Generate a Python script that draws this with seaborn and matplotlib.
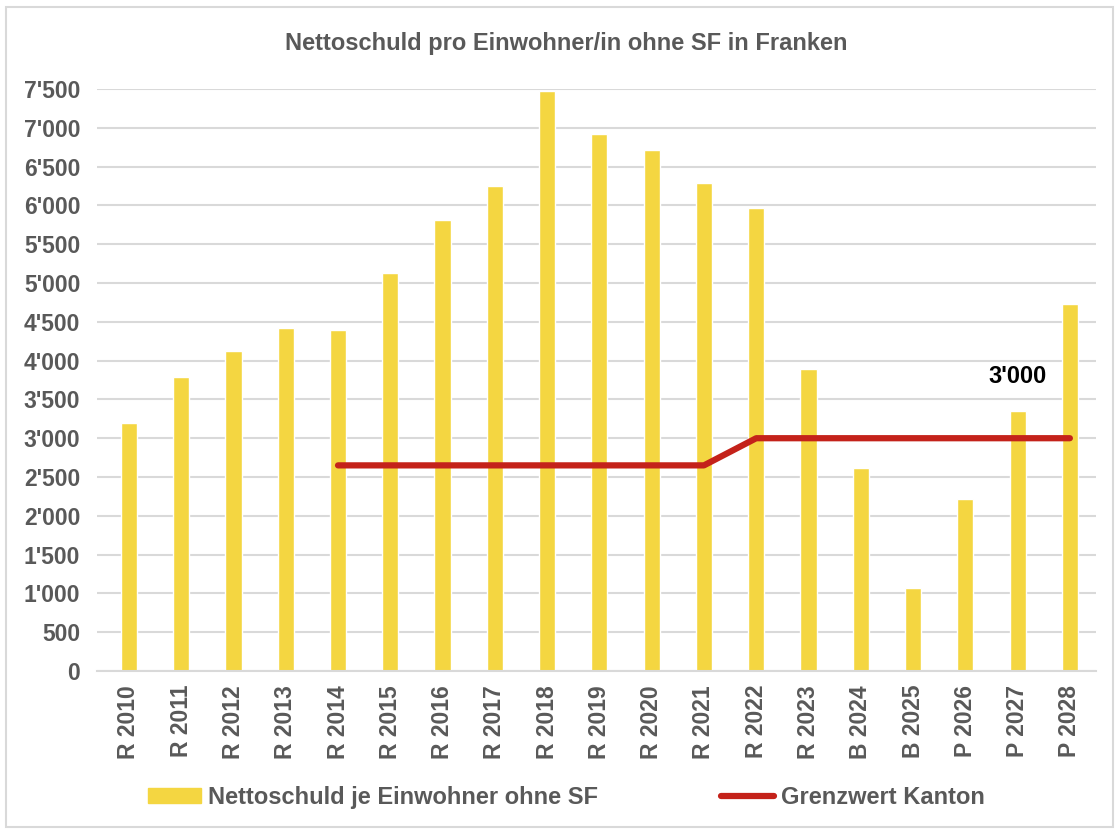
import numpy as np
import pandas as pd
import matplotlib
matplotlib.use('Agg')
import matplotlib.pyplot as plt
import matplotlib.ticker as mticker
from matplotlib.patches import Rectangle, Patch
from matplotlib.lines import Line2D
import seaborn as sns

# data
years = ['R 2010', 'R 2011', 'R 2012', 'R 2013', 'R 2014', 'R 2015', 'R 2016',
         'R 2017', 'R 2018', 'R 2019', 'R 2020', 'R 2021', 'R 2022', 'R 2023',
         'B 2024', 'B 2025', 'P 2026', 'P 2027', 'P 2028']
nettoschuld = [3200, 3790, 4120, 4420, 4390, 5130, 5810, 6250, 7470, 6920,
               6710, 6290, 5970, 3890, 2620, 1070, 2220, 3350, 4730]
grenzwert = [np.nan, np.nan, np.nan, np.nan, 2650, 2650, 2650, 2650, 2650, 2650,
             2650, 2650, 3000, 3000, 3000, 3000, 3000, 3000, 3000]
annot_label = "3'000"

YELLOW = '#F4D641'
RED = '#C4221A'
GREY = '#595959'
GRID = '#D9D9D9'

sns.set_style('white')
plt.rcParams['font.family'] = ['Liberation Sans', 'DejaVu Sans']
plt.rcParams['font.weight'] = 'bold'

df = pd.DataFrame({'jahr': years, 'netto': nettoschuld, 'grenz': grenzwert})

fig = plt.figure(figsize=(11.19, 8.32), dpi=100)
ax = fig.add_axes([0.0867, 0.1935, 0.8923, 0.6995])

sns.barplot(data=df, x='jahr', y='netto', color=YELLOW, saturation=1,
            width=0.31, ax=ax, zorder=2)
ax.plot(np.arange(len(years)), df['grenz'], color=RED, lw=4.5,
        solid_capstyle='round', solid_joinstyle='round', zorder=3)

ax.text(17, 3790, annot_label, ha='center', va='center', fontsize=17,
        fontweight='bold', color='black')

ax.set_ylim(0, 7500)
ax.set_xlim(-0.61, 18.49)
ax.yaxis.set_major_locator(mticker.MultipleLocator(500))
ax.yaxis.set_major_formatter(mticker.FuncFormatter(
    lambda v, p: f"{int(v):,}".replace(',', "'")))
ax.grid(axis='y', color=GRID, lw=1.5, zorder=0)
ax.set_axisbelow(True)
for s in ['left', 'right', 'top']:
    ax.spines[s].set_visible(False)
ax.spines['bottom'].set_color(GRID)
ax.spines['bottom'].set_linewidth(1.5)
ax.set_xlabel('')
ax.set_ylabel('')
ax.tick_params(axis='both', length=0, labelsize=16.5, labelcolor=GREY)
ax.tick_params(axis='y', pad=12)
ax.tick_params(axis='x', pad=10)
plt.setp(ax.get_xticklabels(), rotation=90, fontweight='bold')
plt.setp(ax.get_yticklabels(), fontweight='bold')

fig.text(0.506, 0.948, 'Nettoschuld pro Einwohner/in ohne SF in Franken',
         ha='center', va='center', fontsize=17, fontweight='bold', color=GREY)

handles = [Patch(color=YELLOW), Line2D([0], [0], color=RED, lw=4.5, solid_capstyle='round')]
fig.legend(handles, ['Nettoschuld je Einwohner ohne SF', 'Grenzwert Kanton'],
           loc='center', bbox_to_anchor=(0.506, 0.042), ncol=2, frameon=False,
           labelcolor=GREY, handlelength=2.25, handleheight=0.6,
           handletextpad=0.3, columnspacing=5.2, prop={'weight': 'bold', 'size': 17})

fig.patches.append(Rectangle((0.005, 0.006), 0.99, 0.986, transform=fig.transFigure,
                             fill=False, edgecolor=GRID, lw=1.5))

fig.savefig('out.png', dpi=100)
